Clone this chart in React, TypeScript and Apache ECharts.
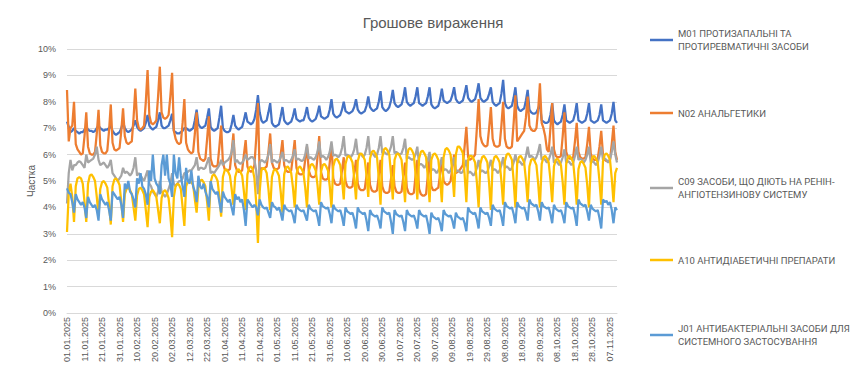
import React, { useEffect, useRef } from "react";
import * as echarts from "echarts";

// Categories: daily dates 01.01.2025 – 11.11.2025
const START = { y: 2025, m: 0, d: 1 };
const DAYS = 315;
const categories: string[] = [];
for (let i = 0; i < DAYS; i++) {
  const dt = new Date(Date.UTC(START.y, START.m, START.d + i));
  const dd = String(dt.getUTCDate()).padStart(2, "0");
  const mm = String(dt.getUTCMonth() + 1).padStart(2, "0");
  categories.push(`${dd}.${mm}.${dt.getUTCFullYear()}`);
}

const yTicks = [0, 1, 2, 3, 4, 5, 6, 7, 8, 9, 10];

const names = [
  "M01 ПРОТИЗАПАЛЬНІ ТА ПРОТИРЕВМАТИЧНІ ЗАСОБИ",
  "N02 АНАЛЬГЕТИКИ",
  "C09 ЗАСОБИ, ЩО ДІЮТЬ НА РЕНІН-АНГІОТЕНЗИНОВУ СИСТЕМУ",
  "A10 АНТИДІАБЕТИЧНІ ПРЕПАРАТИ",
  "J01 АНТИБАКТЕРІАЛЬНІ ЗАСОБИ ДЛЯ СИСТЕМНОГО ЗАСТОСУВАННЯ",
];
const legendLabels = [
  "M01 ПРОТИЗАПАЛЬНІ ТА\nПРОТИРЕВМАТИЧНІ ЗАСОБИ",
  "N02 АНАЛЬГЕТИКИ",
  "C09 ЗАСОБИ, ЩО ДІЮТЬ НА РЕНІН-\nАНГІОТЕНЗИНОВУ СИСТЕМУ",
  "A10 АНТИДІАБЕТИЧНІ ПРЕПАРАТИ",
  "J01 АНТИБАКТЕРІАЛЬНІ ЗАСОБИ ДЛЯ\nСИСТЕМНОГО ЗАСТОСУВАННЯ",
];
const colors = ["#4472C4", "#ED7D31", "#A5A5A5", "#FFC000", "#5B9BD5"];

const M01 = [
  7.25, 7.05, 6.85, 6.9, 7.0,
  6.9, 6.85, 6.8, 6.85, 6.85, 6.95, 7.05,
  6.95, 6.9, 6.9, 6.85, 6.9, 7.0, 7.1,
  7.0, 6.95, 6.9, 6.95, 6.95, 7.0, 7.1,
  6.9, 6.8, 6.75, 6.8, 6.85, 7.0, 7.25,
  7.0, 6.9, 6.85, 6.9, 6.95, 7.1, 7.3,
  7.05, 6.95, 6.9, 6.95, 7.0, 7.2, 7.5,
  7.1, 7.0, 6.95, 7.0, 7.05, 7.3, 7.6,
  7.1, 7.0, 7.0, 7.05, 7.1, 7.3, 7.55,
  6.9, 6.85, 6.8, 6.8, 6.85, 6.9, 7.0,
  7.0, 6.95, 6.9, 6.95, 7.0, 7.3, 7.7,
  7.15, 7.05, 7.0, 7.05, 7.1, 7.4, 7.75,
  7.05, 6.95, 6.9, 6.95, 7.0, 7.4, 7.85,
  7.0, 6.9, 6.85, 6.85, 6.9, 7.15, 7.5,
  7.1, 7.0, 6.95, 7.0, 7.05, 7.3, 7.6,
  7.25, 7.2, 7.15, 7.2, 7.35, 7.7, 8.25,
  7.6, 7.3, 7.2, 7.25, 7.3, 7.6, 7.95,
  7.2, 7.1, 7.05, 7.1, 7.15, 7.45, 7.8,
  7.3, 7.2, 7.15, 7.2, 7.25, 7.45, 7.75,
  7.35, 7.3, 7.25, 7.3, 7.3, 7.5, 7.8,
  7.4, 7.3, 7.25, 7.3, 7.35, 7.55, 7.85,
  7.45, 7.4, 7.35, 7.4, 7.45, 7.7, 8.1,
  7.55, 7.45, 7.4, 7.45, 7.5, 7.7, 8.0,
  7.65, 7.6, 7.55, 7.6, 7.65, 7.8, 8.1,
  7.7, 7.6, 7.55, 7.6, 7.65, 7.85, 8.2,
  7.8, 7.7, 7.65, 7.7, 7.75, 8.0, 8.4,
  7.8, 7.7, 7.65, 7.7, 7.8, 8.05, 8.45,
  7.95, 7.85, 7.8, 7.85, 7.9, 8.15, 8.55,
  8.0, 7.9, 7.85, 7.9, 7.95, 8.2, 8.55,
  7.95, 7.9, 7.85, 7.9, 7.95, 8.2, 8.55,
  7.9, 7.8, 7.75, 7.8, 7.85, 8.1, 8.5,
  8.05, 8.0, 7.95, 8.0, 8.05, 8.25, 8.55,
  8.1, 8.0, 7.95, 8.0, 8.05, 8.3, 8.63,
  8.15, 8.05, 8.0, 8.05, 8.1, 8.35, 8.7,
  8.15, 8.05, 8.0, 8.05, 8.1, 8.3, 8.55,
  8.0, 7.9, 7.85, 7.9, 7.95, 8.3, 8.83,
  7.95, 7.8, 7.75, 7.8, 7.85, 8.15, 8.55,
  7.85, 7.7, 7.65, 7.7, 7.75, 8.05, 8.45,
  7.7, 7.6, 7.55, 7.55, 7.6, 7.75, 7.9,
  7.3, 7.25, 7.2, 7.2, 7.25, 7.5, 7.95,
  7.3, 7.2, 7.15, 7.2, 7.25, 7.5, 7.9,
  7.3, 7.25, 7.2, 7.25, 7.3, 7.55, 7.95,
  7.3, 7.25, 7.2, 7.25, 7.3, 7.55, 7.95,
  7.3, 7.25, 7.2, 7.25, 7.3, 7.5, 7.9,
  7.3, 7.25, 7.2, 7.25, 7.3, 7.55, 8.0,
  7.3, 7.2,
];

const N02 = [
  8.45, 6.5, 7.0, 7.1, 8.0,
  6.4, 6.2, 6.1, 6.0, 6.05, 6.7, 7.6,
  6.3, 6.05, 6.0, 6.0, 6.1, 6.8, 7.7,
  6.35, 6.1, 6.05, 6.05, 6.15, 6.9, 7.9,
  6.45, 6.2, 6.15, 6.2, 6.25, 6.9, 7.75,
  6.7, 6.45, 6.4, 6.45, 6.5, 7.4, 8.5,
  7.3, 7.0, 6.95, 7.0, 7.1, 8.0, 9.2,
  7.5, 7.2, 7.15, 7.2, 7.3, 8.2, 9.33,
  7.6, 7.4, 7.35, 7.4, 7.5, 8.2, 9.1,
  6.9, 6.6, 6.45, 6.4, 6.45, 7.2, 8.1,
  6.45, 6.2, 6.1, 6.05, 6.1, 6.8, 7.6,
  6.1, 5.85, 5.8, 5.75, 5.85, 6.6, 7.45,
  5.85, 5.6, 5.55, 5.55, 5.6, 6.3, 7.1,
  5.7, 5.45, 5.4, 5.4, 5.45, 6.1, 6.8,
  5.6, 5.4, 5.35, 5.35, 5.4, 6.0, 6.55,
  5.55, 5.4, 5.35, 5.4, 5.6, 6.6, 7.95,
  5.2, 5.5, 5.45, 5.5, 5.55, 6.1, 6.8,
  5.7, 5.5, 5.45, 5.45, 5.5, 6.0, 6.55,
  5.6, 5.4, 5.35, 5.35, 5.4, 5.95, 6.55,
  5.5, 5.3, 5.25, 5.25, 5.3, 5.8, 6.3,
  5.4, 5.2, 5.15, 5.15, 5.2, 5.9, 6.7,
  5.35, 5.1, 5.05, 5.05, 5.1, 5.7, 6.4,
  5.1, 4.9, 4.85, 4.85, 4.9, 5.4, 5.9,
  5.0, 4.8, 4.75, 4.75, 4.8, 5.3, 5.8,
  4.9, 4.7, 4.65, 4.65, 4.7, 5.2, 5.7,
  4.85, 4.65, 4.6, 4.6, 4.65, 5.2, 5.8,
  4.8, 4.6, 4.55, 4.55, 4.6, 5.1, 5.6,
  4.8, 4.6, 4.55, 4.55, 4.6, 5.15, 5.7,
  4.75, 4.55, 4.5, 4.5, 4.55, 5.2, 5.8,
  4.7, 4.5, 4.45, 4.45, 4.5, 5.2, 5.9,
  4.8, 4.65, 4.65, 4.7, 4.75, 5.25, 5.8,
  5.0, 4.9, 4.85, 4.9, 5.0, 5.5, 6.0,
  5.3, 5.35, 5.4, 5.5, 5.6, 6.3, 7.05,
  5.9, 5.8, 5.85, 5.9, 6.0, 7.0, 8.1,
  6.7, 6.45, 6.35, 6.3, 6.35, 7.0, 7.8,
  6.6, 6.35, 6.3, 6.3, 6.35, 7.1, 8.0,
  6.6, 6.3, 6.25, 6.25, 6.3, 7.2, 8.25,
  6.5, 6.6, 6.7, 6.8, 6.9, 7.4, 8.2,
  7.1, 6.95, 6.9, 6.9, 7.0, 7.7, 8.7,
  7.2, 7.0, 6.7, 6.2, 6.1, 7.0, 7.95,
  6.2, 5.95, 5.9, 5.9, 5.95, 6.7, 7.6,
  6.1, 5.9, 5.85, 5.85, 5.9, 6.5, 7.2,
  6.1, 5.9, 5.85, 5.85, 5.9, 6.4, 7.05,
  6.05, 5.85, 5.8, 5.8, 5.85, 6.3, 6.9,
  6.0, 5.8, 5.75, 5.75, 5.8, 6.4, 7.1,
  6.1, 5.8,
];

const C09 = [
  4.15, 5.3, 5.8, 5.4, 5.6,
  5.6, 5.7, 5.75, 5.7, 5.6, 5.5, 6.0,
  5.7, 5.75, 5.8, 5.85, 6.0, 6.3, 5.8,
  5.6, 5.65, 5.7, 5.6, 5.5, 5.6, 5.8,
  5.3, 5.2, 5.1, 5.0, 5.1, 5.2, 5.5,
  5.3, 5.35, 5.3, 5.2, 5.3, 5.5, 5.9,
  5.2, 5.3, 5.2, 5.1, 5.0, 5.2, 5.4,
  4.9, 4.8, 4.6, 4.5, 4.4, 4.6, 5.0,
  4.6, 4.5, 4.4, 4.5, 4.7, 4.9, 5.3,
  4.9, 4.8, 4.9, 5.0, 5.0, 5.1, 5.3,
  5.3, 5.35, 5.4, 5.4, 5.5, 5.6, 5.9,
  5.4, 5.5, 5.5, 5.45, 5.5, 5.7, 5.9,
  5.3, 5.35, 5.3, 5.4, 5.5, 5.6, 5.8,
  5.6, 5.7, 5.75, 5.8, 5.9, 6.1, 6.55,
  5.7, 5.8, 5.7, 5.65, 5.7, 5.8, 6.0,
  5.8, 5.85, 5.9, 5.9, 5.8, 5.4, 4.5,
  5.7, 5.8, 5.75, 5.7, 5.8, 6.0, 6.4,
  5.7, 5.8, 5.75, 5.7, 5.75, 5.9, 6.1,
  5.75, 5.8, 5.75, 5.7, 5.8, 5.95, 6.2,
  5.8, 5.85, 5.8, 5.75, 5.8, 6.0, 6.4,
  5.85, 5.9, 5.85, 5.8, 5.9, 6.1, 6.5,
  5.9, 5.95, 5.9, 5.8, 5.9, 6.1, 6.5,
  5.95, 6.0, 5.95, 5.9, 6.0, 6.25, 6.7,
  5.95, 6.0, 5.95, 5.9, 6.0, 6.2, 6.6,
  6.0, 6.05, 6.0, 5.9, 6.0, 6.25, 6.7,
  6.0, 6.05, 6.0, 5.9, 6.0, 6.25, 6.7,
  6.05, 6.1, 6.05, 6.0, 6.1, 6.3, 6.7,
  6.05, 6.1, 6.05, 6.0, 6.05, 6.25, 6.6,
  5.85, 5.9, 5.85, 5.8, 5.85, 6.0, 6.3,
  5.6, 5.65, 5.6, 5.5, 5.6, 5.8, 6.1,
  5.4, 5.45, 5.4, 5.3, 5.4, 5.6, 5.9,
  5.4, 5.45, 5.4, 5.3, 5.4, 5.6, 5.9,
  5.35, 5.4, 5.35, 5.3, 5.35, 5.55, 5.8,
  5.3, 5.35, 5.3, 5.2, 5.3, 5.5, 5.8,
  5.35, 5.4, 5.35, 5.3, 5.35, 5.55, 5.8,
  5.4, 5.45, 5.4, 5.3, 5.4, 5.6, 5.9,
  5.5, 5.55, 5.5, 5.4, 5.5, 5.7, 6.0,
  5.7, 5.75, 5.7, 5.6, 5.7, 5.95, 6.3,
  5.9, 5.95, 5.9, 5.8, 5.9, 6.1, 6.4,
  5.8, 5.85, 5.8, 5.7, 5.8, 6.0, 6.3,
  5.7, 5.75, 5.7, 5.6, 5.7, 5.9, 6.2,
  5.7, 5.75, 5.7, 5.6, 5.7, 5.95, 6.3,
  5.8, 5.85, 5.8, 5.7, 5.8, 6.0, 6.3,
  5.7, 5.75, 5.7, 5.6, 5.7, 5.95, 6.3,
  5.8, 5.85, 5.8, 5.7, 5.8, 6.1, 6.5,
  6.0, 5.7,
];

const A10 = [
  3.07, 4.55, 4.9, 4.4, 3.45,
  4.8, 5.1, 5.15, 5.1, 4.9, 4.2, 3.45,
  4.9, 5.2, 5.25, 5.15, 5.0, 4.4, 3.7,
  4.7, 4.95, 5.0, 4.9, 4.75, 4.1, 3.35,
  4.8, 5.05, 5.1, 5.0, 4.85, 4.2, 3.45,
  4.5, 4.7, 4.75, 4.65, 4.5, 4.0, 3.5,
  4.45, 4.7, 4.75, 4.65, 4.5, 3.9, 3.25,
  4.4, 4.6, 4.65, 4.55, 4.4, 3.9, 3.4,
  4.35, 4.6, 4.65, 4.55, 4.35, 3.7, 2.87,
  4.4, 4.8, 4.9, 4.85, 4.7, 4.0, 3.3,
  4.8, 5.0, 5.05, 4.95, 4.85, 4.3, 3.8,
  4.75, 5.0, 5.05, 4.95, 4.8, 4.2, 3.5,
  4.95, 5.2, 5.25, 5.15, 5.0, 4.4, 3.65,
  5.15, 5.4, 5.45, 5.35, 5.2, 4.7, 4.1,
  5.15, 5.4, 5.45, 5.35, 5.2, 4.6, 3.9,
  5.25, 5.5, 5.55, 5.45, 5.1, 4.2, 2.65,
  4.6, 5.4, 5.5, 5.45, 5.3, 4.7, 3.9,
  5.15, 5.4, 5.45, 5.35, 5.2, 4.6, 3.8,
  5.25, 5.5, 5.55, 5.45, 5.3, 4.75, 4.0,
  5.25, 5.5, 5.55, 5.45, 5.3, 4.75, 4.0,
  5.35, 5.6, 5.65, 5.55, 5.4, 4.85, 4.1,
  5.35, 5.6, 5.65, 5.55, 5.4, 4.8, 4.0,
  5.55, 5.8, 5.85, 5.75, 5.6, 5.05, 4.3,
  5.65, 5.9, 5.95, 5.85, 5.7, 5.1, 4.3,
  5.75, 6.0, 6.05, 5.95, 5.8, 5.2, 4.4,
  5.85, 6.1, 6.15, 6.05, 5.9, 5.1, 4.1,
  5.9, 6.2, 6.25, 6.15, 6.0, 5.25, 4.3,
  5.8, 6.0, 6.05, 5.95, 5.8, 5.1, 4.2,
  5.9, 6.2, 6.25, 6.15, 6.0, 5.25, 4.3,
  5.85, 6.1, 6.15, 6.05, 5.9, 5.15, 4.2,
  5.8, 6.0, 6.05, 5.95, 5.8, 5.1, 4.2,
  5.9, 6.2, 6.25, 6.15, 6.0, 5.3, 4.4,
  6.0, 6.3, 6.3, 6.2, 6.05, 5.25, 4.2,
  5.8, 5.95, 5.95, 5.85, 5.7, 4.95, 4.0,
  5.65, 5.9, 5.95, 5.85, 5.7, 4.9, 3.9,
  5.65, 5.9, 5.95, 5.85, 5.7, 5.0, 4.1,
  5.75, 6.0, 6.05, 5.95, 5.8, 5.0, 4.0,
  5.65, 5.9, 5.95, 5.85, 5.7, 5.05, 4.2,
  5.55, 5.8, 5.85, 5.75, 5.6, 4.9, 4.0,
  5.65, 5.9, 5.95, 5.85, 5.7, 5.05, 4.2,
  5.55, 5.8, 5.85, 5.75, 5.6, 4.95, 4.1,
  5.65, 5.9, 5.95, 5.85, 5.7, 5.0, 4.1,
  5.45, 5.7, 5.75, 5.65, 5.5, 4.85, 4.0,
  5.65, 5.9, 5.95, 5.85, 5.7, 5.0, 4.1,
  5.75, 6.0, 6.05, 5.95, 5.8, 5.1, 4.2,
  5.3, 5.5,
];

const J01 = [
  4.72, 4.55, 4.5, 4.2, 3.8,
  4.5, 4.3, 4.2, 4.1, 4.2, 4.0, 3.6,
  4.4, 4.2, 4.1, 4.0, 4.1, 3.9, 3.5,
  4.5, 4.3, 4.2, 4.1, 4.2, 3.9, 3.5,
  4.6, 4.5, 4.4, 4.3, 4.4, 4.1, 3.6,
  4.9, 4.7, 5.0, 4.6, 4.5, 4.3, 4.0,
  5.1, 4.9, 5.3, 4.8, 4.7, 4.5, 4.1,
  5.4, 5.0, 6.0, 5.1, 4.9, 4.8, 4.5,
  5.6, 6.0, 5.2, 6.0, 5.1, 4.9, 4.4,
  6.0, 5.3, 5.1, 5.9, 5.2, 4.8, 4.4,
  5.5, 5.0, 4.9, 5.4, 4.8, 4.6, 4.2,
  5.2, 4.8, 4.7, 4.9, 4.6, 4.4, 4.0,
  5.0, 4.7, 4.6, 4.5, 4.6, 4.2, 3.8,
  4.6, 4.4, 4.3, 4.2, 4.3, 4.0, 3.7,
  4.5, 4.3, 4.4, 4.2, 4.3, 3.9, 3.3,
  4.3, 4.2, 4.1, 4.0, 4.1, 4.0, 3.7,
  4.3, 4.1, 4.0, 3.95, 4.0, 3.8, 3.6,
  4.2, 4.05, 4.0, 3.9, 4.0, 3.8, 3.5,
  4.1, 3.95, 3.9, 3.85, 3.9, 3.7, 3.4,
  4.1, 3.95, 3.9, 3.85, 3.9, 3.7, 3.5,
  4.1, 3.95, 3.9, 3.85, 3.9, 3.65, 3.3,
  4.2, 4.05, 4.0, 3.95, 4.0, 3.75, 3.4,
  4.1, 3.95, 3.9, 3.85, 3.9, 3.65, 3.3,
  4.0, 3.85, 3.8, 3.75, 3.8, 3.55, 3.2,
  4.0, 3.85, 3.8, 3.75, 3.8, 3.5, 3.1,
  3.9, 3.75, 3.7, 3.65, 3.7, 3.5, 3.2,
  4.0, 3.85, 3.8, 3.75, 3.8, 3.45, 3.0,
  3.9, 3.75, 3.7, 3.65, 3.7, 3.45, 3.1,
  3.9, 3.75, 3.7, 3.65, 3.7, 3.5, 3.2,
  3.9, 3.75, 3.7, 3.65, 3.7, 3.4, 3.0,
  3.8, 3.65, 3.6, 3.55, 3.6, 3.4, 3.1,
  3.9, 3.75, 3.7, 3.65, 3.7, 3.5, 3.2,
  3.8, 3.65, 3.6, 3.55, 3.6, 3.4, 3.1,
  4.0, 3.85, 3.8, 3.75, 3.8, 3.55, 3.2,
  4.0, 3.85, 3.8, 3.75, 3.8, 3.6, 3.3,
  4.1, 3.95, 3.9, 3.85, 3.9, 3.65, 3.3,
  4.2, 4.05, 4.0, 3.95, 4.0, 3.75, 3.4,
  4.2, 4.05, 4.0, 3.95, 4.0, 3.8, 3.5,
  4.3, 4.15, 4.1, 4.05, 4.1, 3.85, 3.5,
  4.2, 4.05, 4.0, 3.95, 4.0, 3.75, 3.4,
  4.1, 3.95, 3.9, 3.85, 3.9, 3.7, 3.4,
  4.2, 4.05, 4.0, 3.95, 4.0, 3.7, 3.3,
  4.3, 4.15, 4.1, 4.05, 4.1, 3.85, 3.5,
  4.1, 3.95, 3.9, 3.85, 3.9, 3.6, 3.2,
  4.3, 4.2, 4.25, 4.1, 4.2, 3.9, 3.4,
  4.0, 3.9,
];

const seriesData = [M01, N02, C09, A10, J01];

// legend box tops (px from top of chart)
const legendTops = [15.5, 101.5, 163.5, 248.5, 310.5];

export default function App() {
  const ref = useRef<HTMLDivElement>(null);
  useEffect(() => {
    if (!ref.current) return;
    const chart = echarts.init(ref.current, null, { renderer: "svg" });
    const font = "'Liberation Sans', Arial, sans-serif";
    const legendFont = "Roboto, 'Liberation Sans', sans-serif";
    const legends = names.map((n, i) => {
      const twoLine = legendLabels[i].includes("\n");
      return {
        data: [n],
        orient: "vertical",
        left: 645,
        top: legendTops[i],
        icon: "rect",
        itemWidth: 23,
        itemHeight: 2.5,
        itemGap: 0,
        selectedMode: false,
        formatter: () => legendLabels[i],
        textStyle: {
          color: "#595959",
          fontSize: 9.5,
          fontFamily: legendFont,
          lineHeight: 13,
          padding: twoLine ? [13, 0, 0, 0] : 0,
        },
      };
    });
    chart.setOption({
      animation: false,
      backgroundColor: "#ffffff",
      title: {
        text: "Грошове вираження",
        left: 428,
        top: 10,
        textAlign: "center",
        textStyle: { color: "#595959", fontSize: 15, fontWeight: "normal", fontFamily: font },
      },
      legend: legends,
      grid: { left: 67, right: 233, top: 49, bottom: 72, containLabel: false },
      xAxis: {
        type: "category",
        data: categories,
        boundaryGap: false,
        axisLine: { show: true, lineStyle: { color: "#D9D9D9", width: 1 } },
        axisTick: { show: false },
        axisLabel: {
          interval: 9,
          rotate: 90,
          margin: 4,
          color: "#595959",
          fontSize: 9,
          fontFamily: font,
        },
        splitLine: { show: false },
      },
      yAxis: {
        type: "value",
        min: yTicks[0],
        max: yTicks[yTicks.length - 1],
        interval: 1,
        name: "Частка",
        nameLocation: "middle",
        nameGap: 31,
        nameRotate: 90,
        nameMoveOverlap: false,
        nameTextStyle: { color: "#595959", fontSize: 10, fontFamily: font },
        axisLine: { show: false },
        axisTick: { show: false },
        axisLabel: {
          color: "#595959",
          fontSize: 9,
          fontFamily: font,
          margin: 11,
          formatter: (v: number) => `${v}%`,
        },
        splitLine: { lineStyle: { color: "#D9D9D9", width: 1 } },
      },
      series: names.map((n, i) => ({
        name: n,
        type: "line",
        data: seriesData[i],
        showSymbol: false,
        symbol: "none",
        lineStyle: { color: colors[i], width: 2.25 },
        itemStyle: { color: colors[i] },
      })),
    });
    return () => chart.dispose();
  }, []);
  return (
    <div
      ref={ref}
      style={{ position: "fixed", left: 0, top: 0, width: 850, height: 385, background: "#fff" }}
    />
  );
}
